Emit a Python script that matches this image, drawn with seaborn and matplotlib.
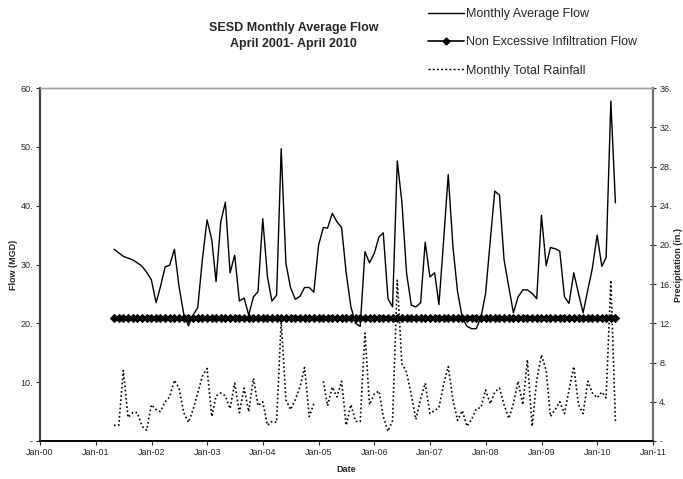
import matplotlib
matplotlib.use('Agg')
import matplotlib.pyplot as plt
import matplotlib.dates as mdates
from matplotlib.lines import Line2D
from matplotlib.ticker import FuncFormatter, MultipleLocator
import seaborn as sns
import pandas as pd
import numpy as np

# monthly data, Apr 2001 - Apr 2010 (month end)
dates = pd.date_range('2001-04-30', periods=109, freq='ME')

flow = [32.6, 32.0, 31.4, 31.1, 30.8, 30.3, 29.7, 28.7, 27.4, 23.5,
        26.2, 29.6, 29.9, 32.6, 26.3, 21.6, 19.6, 21.4, 22.7, 30.8,
        37.6, 34.2, 27.1, 37.3, 40.6, 28.6, 31.6, 23.8, 24.3, 21.4,
        24.5, 25.4, 37.8, 27.9, 23.8, 24.8, 49.7, 30.2, 26.1, 24.1,
        24.6, 26.1, 26.1, 25.3, 33.3, 36.3, 36.2, 38.7, 37.3, 36.3,
        28.6, 22.8, 20.0, 19.5, 32.2, 30.3, 31.9, 34.7, 35.4, 24.2,
        22.8, 47.6, 40.7, 28.5, 23.1, 22.8, 23.5, 33.8, 27.9, 28.6,
        23.2, 34.2, 45.3, 33.0, 25.4, 21.0, 19.5, 19.1, 19.1, 21.0,
        25.1, 34.2, 42.5, 41.8, 30.8, 26.2, 21.8, 24.5, 25.7, 25.7,
        25.1, 24.2, 38.4, 29.8, 32.9, 32.7, 32.3, 24.5, 23.4, 28.6,
        25.1, 21.8, 25.7, 29.4, 35.0, 29.7, 31.2, 57.8, 40.5]

infiltration = [21.0] * 109

rainfall = [1.6, 1.6, 7.2, 2.4, 2.9, 2.9, 1.5, 1.1, 3.7, 3.2,
            3.0, 4.0, 4.5, 6.2, 5.4, 2.9, 1.9, 3.2, 4.9, 6.6,
            7.4, 2.5, 4.6, 4.9, 4.6, 3.3, 5.9, 2.9, 5.4, 3.0,
            6.4, 3.6, 4.0, 1.6, 2.0, 1.9, 12.3, 4.2, 3.2, 4.2,
            5.5, 7.5, 2.5, 3.8, np.nan, 6.1, 3.6, 5.5, 4.5, 6.1,
            1.6, 3.7, 2.0, 2.0, 11.0, 3.7, 4.8, 5.1, 2.5, 1.0,
            2.1, 16.4, 7.9, 7.0, 4.7, 2.2, 4.3, 5.9, 2.8, 3.1,
            3.4, 5.8, 7.6, 4.2, 2.1, 3.1, 1.5, 2.2, 3.3, 3.4,
            5.2, 3.8, 5.0, 5.4, 3.7, 2.3, 3.8, 6.1, 3.7, 8.3,
            1.5, 6.2, 8.8, 7.2, 2.5, 3.2, 4.0, 2.8, 5.2, 7.6,
            3.7, 2.8, 6.1, 4.9, 4.4, 5.0, 4.4, 16.4, 2.0]

df = pd.DataFrame({'Date': dates, 'Flow': flow,
                   'Infiltration': infiltration, 'Rainfall': rainfall})

sns.set_style('white')
plt.rcParams['font.family'] = ['Liberation Sans', 'DejaVu Sans']

fig = plt.figure(figsize=(6.83, 4.79), dpi=100)
ax = fig.add_axes([0.0586, 0.0793, 0.8974, 0.7367])

sns.lineplot(data=df, x='Date', y='Flow', ax=ax, color='black', lw=1.0)
sns.lineplot(data=df, x='Date', y='Infiltration', ax=ax, color='black', lw=1.5,
             marker='D', markersize=4, markeredgecolor='black')

ax2 = ax.twinx()
ax2.plot(df['Date'], df['Rainfall'], color='black', lw=1.2, linestyle=(0, (1, 1.5)))

ax.set_xlim(pd.Timestamp('2000-01-01'), pd.Timestamp('2011-01-01'))
ax.set_ylim(0, 60)
ax2.set_ylim(0, 36)

ax.xaxis.set_major_locator(mdates.YearLocator())
ax.xaxis.set_major_formatter(mdates.DateFormatter('%b-%y'))
ax.yaxis.set_major_locator(MultipleLocator(10))
ax2.yaxis.set_major_locator(MultipleLocator(4))
fmt = FuncFormatter(lambda v, p: '-' if v == 0 else f'{v:.0f}.')
ax.yaxis.set_major_formatter(fmt)
ax2.yaxis.set_major_formatter(fmt)

ax.tick_params(axis='both', labelsize=6.5, direction='out', length=3, width=0.8,
               pad=2, bottom=True, left=True)
ax2.tick_params(axis='y', labelsize=6.5, direction='inout', length=5, width=0.8, pad=2)

ax.set_xlabel('Date', fontsize=6.5, fontweight='bold', labelpad=6)
ax.set_ylabel('Flow (MGD)', fontsize=6.5, fontweight='bold', labelpad=2)
ax2.set_ylabel('Precipitation (in.)', fontsize=6.5, fontweight='bold')
ax2.yaxis.set_label_coords(1.035, 0.5)

for a in (ax, ax2):
    a.spines['top'].set_color('#a0a0a0')
    a.spines['top'].set_linewidth(1.0)
    a.spines['left'].set_color('#404040')
    a.spines['left'].set_linewidth(1.5)
    a.spines['right'].set_color('#707070')
    a.spines['right'].set_linewidth(1.5)
    a.spines['bottom'].set_color('black')
    a.spines['bottom'].set_linewidth(1.2)

fig.text(0.43, 0.925, 'SESD Monthly Average Flow\nApril 2001- April 2010',
         ha='center', va='center', fontsize=9, fontweight='bold', linespacing=1.45)

handles = [Line2D([], [], color='black', lw=1.0),
           Line2D([], [], color='black', lw=1.2, marker='D', markersize=3.5),
           Line2D([], [], color='black', lw=1.0, linestyle=(0, (1.5, 1.5)))]
labels = ['Monthly Average Flow', 'Non Excessive Infiltration Flow', 'Monthly Total Rainfall']
fig.legend(handles, labels, loc='upper left', bbox_to_anchor=(0.615, 1.0),
           frameon=False, fontsize=9, handlelength=2.9, handletextpad=0.15,
           labelspacing=1.3, borderaxespad=0.35, borderpad=0.3)

fig.savefig('out.png', dpi=100)
